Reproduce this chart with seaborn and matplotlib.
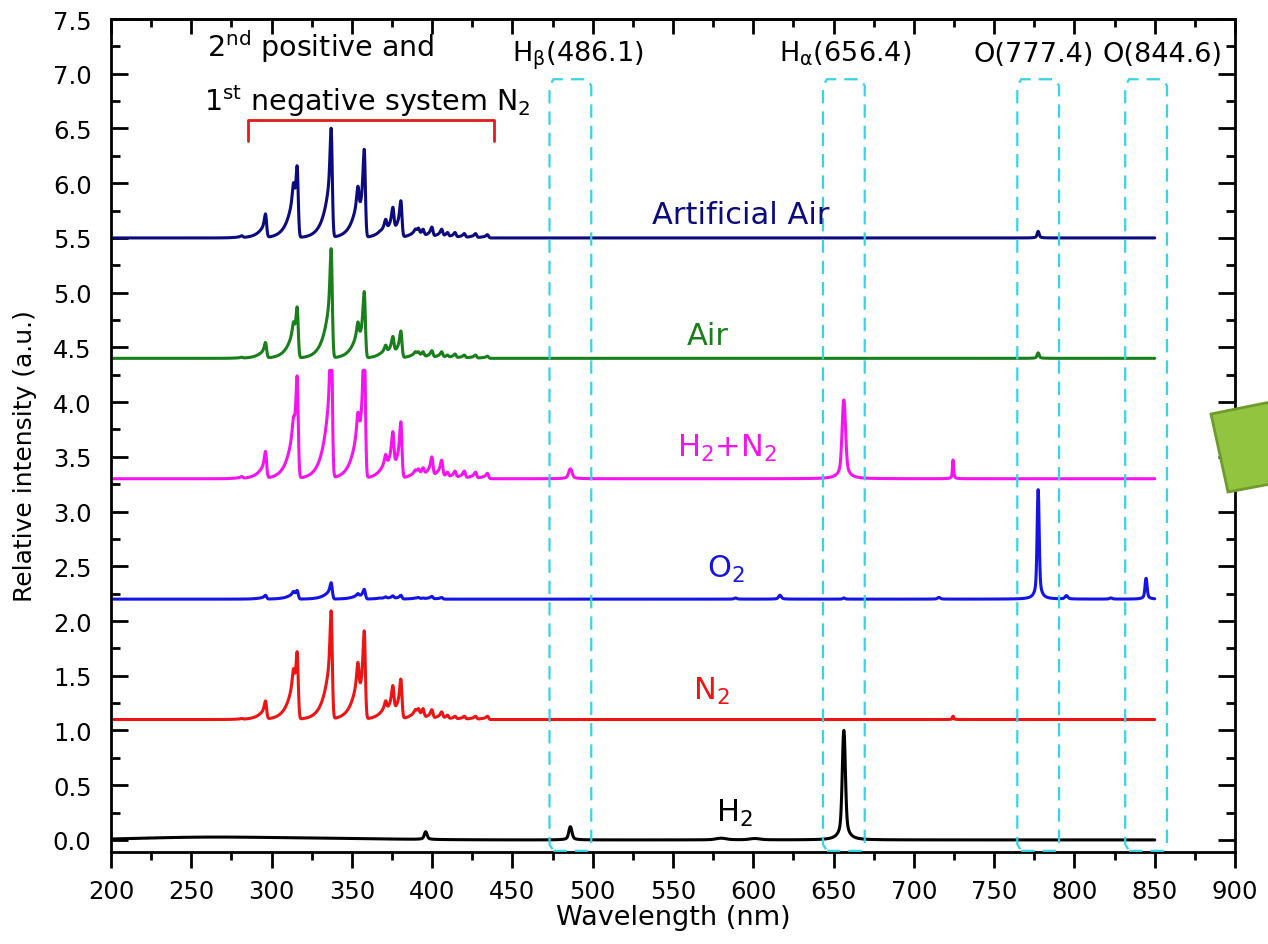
import numpy as np
import pandas as pd
import matplotlib
matplotlib.use("Agg")
import matplotlib.pyplot as plt
import seaborn as sns
from matplotlib.patches import Polygon
from matplotlib.ticker import MultipleLocator, FormatStrFormatter

# ---------------------------------------------------------------- data
series_names = ["Artificial Air", "Air", "H2+N2", "O2", "N2", "H2"]
series_labels = ["Artificial Air", "Air", "H$_2$+N$_2$", "O$_2$", "N$_2$", "H$_2$"]
series_colors = ["#0b0b7d", "#187f1a", "#f514f0", "#1414e6", "#ee1414", "#000000"]
series_offsets = [5.5, 4.4, 3.3, 2.2, 1.1, 0.0]

# N2 2nd positive / 1st negative band heads (nm)
band_heads = [281.4, 296.2, 313.6, 315.9, 337.1, 350.0, 353.7, 357.7, 367.2,
              371.0, 375.5, 380.5, 389.5, 391.4, 394.3, 399.8, 405.9, 409.5,
              414.2, 420.0, 427.0, 434.4]

# intensity at each band head above the trace baseline
peaks_art_air = [0.02, 0.22, 0.50, 0.66, 1.00, 0.06, 0.47, 0.81, 0.06, 0.17,
                 0.28, 0.34, 0.08, 0.09, 0.08, 0.10, 0.08, 0.05, 0.05, 0.04, 0.04, 0.03]
peaks_air = [0.01, 0.145, 0.33, 0.47, 1.00, 0.04, 0.33, 0.61, 0.04, 0.12,
             0.20, 0.25, 0.06, 0.06, 0.06, 0.07, 0.06, 0.03, 0.04, 0.03, 0.03, 0.02]
peaks_h2n2 = [0.02, 0.25, 0.56, 0.94, 1.50, 0.06, 0.60, 1.35, 0.06, 0.22,
              0.43, 0.52, 0.08, 0.09, 0.10, 0.20, 0.17, 0.06, 0.07, 0.07, 0.06, 0.05]
peaks_o2 = [0.00, 0.035, 0.07, 0.08, 0.15, 0.01, 0.05, 0.09, 0.01, 0.02,
            0.03, 0.035, 0.01, 0.015, 0.01, 0.025, 0.015, 0.0, 0.0, 0.0, 0.0, 0.0]
peaks_n2 = [0.01, 0.17, 0.46, 0.62, 0.99, 0.06, 0.52, 0.81, 0.05, 0.17,
            0.31, 0.37, 0.09, 0.10, 0.10, 0.09, 0.07, 0.04, 0.03, 0.03, 0.03, 0.03]
peaks_h2 = [0.0] * len(band_heads)

# atomic / molecular lines: centre (nm), height, width (nm)
lines_art_air_nm, lines_art_air_h, lines_art_air_w = [777.4], [0.06], [0.6]
lines_air_nm, lines_air_h, lines_air_w = [777.4], [0.05], [0.6]
lines_h2n2_nm = [486.1, 656.4, 724.4]
lines_h2n2_h = [0.09, 0.72, 0.17]
lines_h2n2_w = [1.0, 1.0, 0.35]
lines_o2_nm = [589.0, 616.6, 656.4, 715.6, 777.4, 795.0, 822.7, 844.6]
lines_o2_h = [0.01, 0.035, 0.01, 0.015, 1.00, 0.03, 0.01, 0.19]
lines_o2_w = [0.8, 0.8, 0.6, 0.8, 0.6, 0.8, 0.8, 0.6]
lines_n2_nm, lines_n2_h, lines_n2_w = [724.4], [0.03], [0.4]
lines_h2_nm = [396.0, 486.1, 580.0, 601.0, 656.4]
lines_h2_h = [0.07, 0.12, 0.015, 0.012, 1.00]
lines_h2_w = [0.8, 0.9, 3.0, 3.0, 0.9]

# broad H2 continuum: centre, height, width
cont_h2_nm, cont_h2_h, cont_h2_w = [255.0, 330.0], [0.022, 0.013], [80.0, 90.0]

# detector saturation above baseline (only the H2+N2 trace clips)
saturation = [None, None, 0.99, None, None, None]

# marked emission lines and the boxes around them
box_centers = [486.1, 656.4, 777.4, 844.6]
peak_texts = ["H$_\\beta$(486.1)", "H$_\\alpha$(656.4)", "O(777.4)", "O(844.6)"]
peak_text_x = [491.0, 657.0, 774.5, 855.0]

wl = np.arange(200.0, 850.05, 0.1)


def band_shape(x, head):
    d = head - x
    core = np.exp(-0.5 * (d / 0.7) ** 2)
    tail = np.where(d >= 0, np.exp(-np.clip(d, 0, None) / 4.0), np.exp(-0.5 * (d / 0.7) ** 2))
    return 0.3 * core + 0.7 * tail


heads = np.asarray(band_heads)
overlap = band_shape(heads[:, None], heads[None, :])


def band_profile(x, peaks):
    amps = np.clip(np.linalg.solve(overlap, np.asarray(peaks, float)), 0, None)
    return (band_shape(x[:, None], heads[None, :]) * amps[None, :]).sum(axis=1)


def line_profile(x, centers, heights, widths):
    y = np.zeros_like(x)
    for c, h, w in zip(centers, heights, widths):
        d = x - c
        y += h * (0.75 * np.exp(-0.5 * (d / w) ** 2) + 0.25 / (1 + (d / (2.5 * w)) ** 2))
    return y


def broad(x, centers, heights, widths):
    y = np.zeros_like(x)
    for c, h, w in zip(centers, heights, widths):
        y += h * np.exp(-0.5 * ((x - c) / (w / 2.0)) ** 2)
    return y


spectra = [
    band_profile(wl, peaks_art_air) + line_profile(wl, lines_art_air_nm, lines_art_air_h, lines_art_air_w),
    band_profile(wl, peaks_air) + line_profile(wl, lines_air_nm, lines_air_h, lines_air_w),
    band_profile(wl, peaks_h2n2) + line_profile(wl, lines_h2n2_nm, lines_h2n2_h, lines_h2n2_w),
    band_profile(wl, peaks_o2) + line_profile(wl, lines_o2_nm, lines_o2_h, lines_o2_w),
    band_profile(wl, peaks_n2) + line_profile(wl, lines_n2_nm, lines_n2_h, lines_n2_w),
    band_profile(wl, peaks_h2) + line_profile(wl, lines_h2_nm, lines_h2_h, lines_h2_w)
    + broad(wl, cont_h2_nm, cont_h2_h, cont_h2_w),
]

frames = []
for name, spec, off, sat in zip(series_names, spectra, series_offsets, saturation):
    if sat is not None:
        spec = np.minimum(spec, sat)
    frames.append(pd.DataFrame({"wavelength": wl, "intensity": spec + off, "series": name}))
df = pd.concat(frames, ignore_index=True)

# ---------------------------------------------------------------- style
sns.set_theme(style="ticks")
plt.rcParams["font.family"] = ["DejaVu Sans"]
plt.rcParams["mathtext.fontset"] = "dejavusans"
plt.rcParams["mathtext.default"] = "regular"
plt.rcParams["path.simplify"] = False

fig = plt.figure(figsize=(12.68, 9.45), dpi=100)
ax = fig.add_axes([0.0875, 0.0974, 0.8865, 0.8814])

palette = dict(zip(series_names, series_colors))
sns.lineplot(data=df, x="wavelength", y="intensity", hue="series", palette=palette,
             estimator=None, sort=False, legend=False, linewidth=2.2, ax=ax, zorder=2)

ax.set_xlim(200, 900)
ax.set_ylim(-0.11, 7.5)
ax.xaxis.set_major_locator(MultipleLocator(50))
ax.xaxis.set_minor_locator(MultipleLocator(25))
ax.yaxis.set_major_locator(MultipleLocator(0.5))
ax.yaxis.set_minor_locator(MultipleLocator(0.25))
ax.yaxis.set_major_formatter(FormatStrFormatter("%.1f"))

for s in ax.spines.values():
    s.set_visible(True)
    s.set_linewidth(2.0)
    s.set_color("black")

ax.tick_params(axis="x", which="both", bottom=True, top=False, direction="out",
               labelsize=17.5, pad=8, width=2.0, color="black", labelcolor="black")
ax.tick_params(axis="x", which="major", length=11.5)
ax.tick_params(axis="x", which="minor", length=6)
ax.tick_params(axis="y", which="both", left=True, right=True, direction="in",
               labelsize=17.5, pad=14, width=2.0, color="black", labelcolor="black")
ax.tick_params(axis="y", which="major", length=12.5)
ax.tick_params(axis="y", which="minor", length=6.5)

top = ax.secondary_xaxis("top")
top.xaxis.set_major_locator(MultipleLocator(50))
top.xaxis.set_minor_locator(MultipleLocator(25))
top.tick_params(axis="x", which="both", direction="in", labeltop=False, width=2.0, color="black")
top.tick_params(axis="x", which="major", length=11)
top.tick_params(axis="x", which="minor", length=6)
top.spines["top"].set_linewidth(2.0)

ax.set_xlabel("Wavelength (nm)", fontsize=19.5, labelpad=1, color="black")
ax.set_ylabel("Relative intensity (a.u.)", fontsize=18, color="black")
ax.yaxis.set_label_coords(-0.066, 0.477)
ax.grid(False)

# dashed boxes around the marked lines (chamfered corners)
half_w, y_lo, y_hi, cx, cy = 13.0, -0.10, 6.95, 2.5, 0.06
for c in box_centers:
    x0, x1 = c - half_w, c + half_w
    verts = [(x0 + cx, y_lo), (x1 - cx, y_lo), (x1, y_lo + cy), (x1, y_hi - cy),
             (x1 - cx, y_hi), (x0 + cx, y_hi), (x0, y_hi - cy), (x0, y_lo + cy)]
    ax.add_patch(Polygon(verts, closed=True, fill=False, edgecolor="#36d4e6",
                         linewidth=1.6, linestyle=(0, (6.0, 3.6)), zorder=3))

for txt, xp in zip(peak_texts, peak_text_x):
    ax.text(xp, 7.12, txt, fontsize=19.5, ha="center", va="baseline", color="black")

# N2 system annotation with bracket
ax.text(260, 7.16, "2$^{nd}$ positive and", fontsize=20.5, ha="left", va="baseline", color="black")
ax.text(258, 6.67, "1$^{st}$ negative system N$_2$", fontsize=20.5, ha="left", va="baseline", color="black")
ax.plot([285.2, 285.2, 438.5, 438.5], [6.39, 6.58, 6.58, 6.39], color="#e01b1b", lw=2.0, zorder=3)

# trace labels
label_x = [592.0, 571.5, 583.5, 583.0, 574.0, 588.5]
label_y = [5.64, 4.53, 3.51, 2.40, 1.29, 0.17]
for lab, col, xp, yp in zip(series_labels, series_colors, label_x, label_y):
    ax.text(xp, yp, lab, fontsize=22, ha="center", va="baseline", color=col)

# decorative tilted square at the right edge
W, H = 1268.0, 945.0
sq_px = [(1211, 415), (1300, 397), (1318, 476), (1228, 493)]
fig.patches.append(Polygon([(x / W, 1 - y / H) for x, y in sq_px], closed=True,
                           transform=fig.transFigure, facecolor="#92c43f",
                           edgecolor="#6f9b2c", linewidth=2.0, zorder=10))

fig.savefig("out.png", dpi=100)
